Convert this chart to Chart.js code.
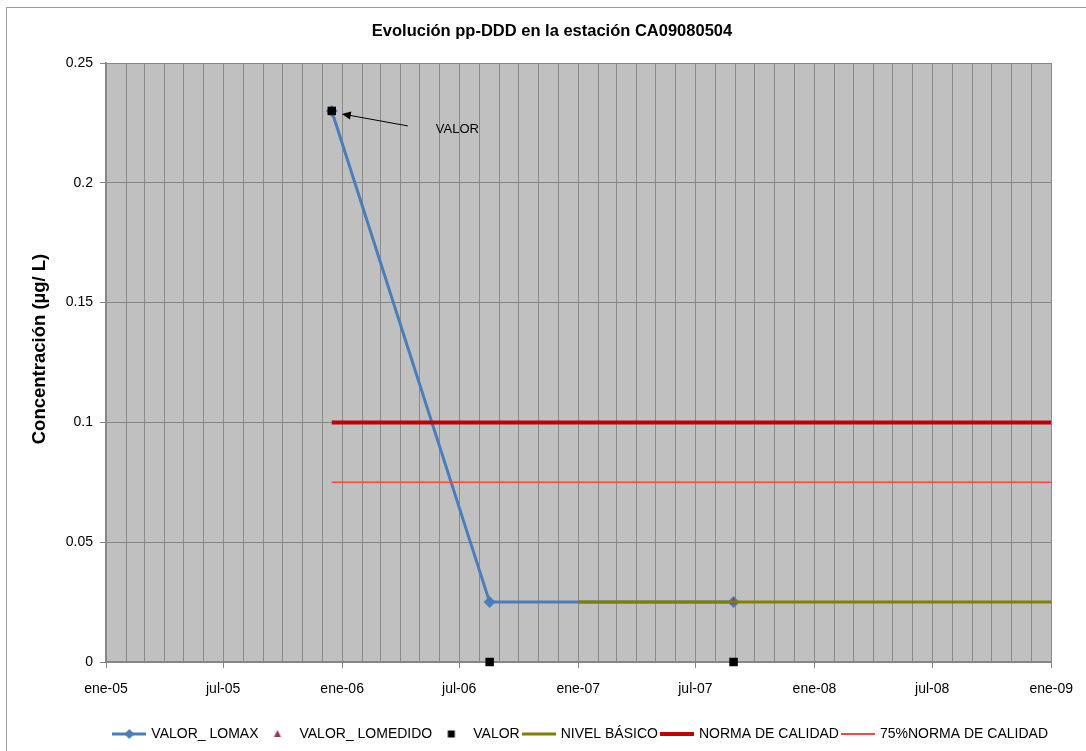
<!DOCTYPE html>
<html>
<head>
<meta charset="utf-8">
<script src="https://cdn.jsdelivr.net/npm/chart.js@4"></script>
<style>
  html, body { margin: 0; padding: 0; background: #fff; }
  #wrap { width: 1086px; height: 751px; position: relative; }
</style>
</head>
<body>
<div id="wrap"><canvas id="evolucion" width="1086" height="751"></canvas></div>
<script>
// datos
const fechasLomax = ["2005-12-16", "2006-08-17", "2007-08-29"];
const valorLomax = [0.23, 0.025, 0.025];
const fechasLomedido = ["2007-08-29"];
const valorLomedido = [0.025];
const fechasValor = ["2005-12-16", "2006-08-17", "2007-08-29"];
const valorValor = [0.23, 0, 0];
const fechasNivel = ["2007-01-01", "2009-01-01"];
const valorNivel = [0.025, 0.025];
const fechasNorma = ["2005-12-16", "2009-01-01"];
const valorNorma = [0.1, 0.1];
const valorNorma75 = [0.075, 0.075];

const meses = ["ene", "feb", "mar", "abr", "may", "jun", "jul", "ago", "sep", "oct", "nov", "dic"];
const yTicks = [0, 0.05, 0.1, 0.15, 0.2, 0.25];
const yTickLabels = ["0", "0.05", "0.1", "0.15", "0.2", "0.25"];
const nombres = ["VALOR_ LOMAX", "VALOR_ LOMEDIDO", "VALOR", "NIVEL BÁSICO", "NORMA DE CALIDAD", "75%NORMA DE CALIDAD"];
const titulo = "Evolución pp-DDD en la estación CA09080504";
const tituloY = "Concentración (µg/ L)";

const FUENTE = '"Liberation Sans", Arial, sans-serif';
const puntos = (fechas, valores) => fechas.map((f, i) => ({ x: Date.parse(f), y: valores[i] }));

Chart.defaults.font.family = FUENTE;
Chart.defaults.color = "#000";

const icono = (dibujar) => {
  const c = document.createElement("canvas");
  c.width = 34;
  c.height = 14;
  dibujar(c.getContext("2d"));
  return c;
};
const linea = (g, color, ancho) => {
  g.strokeStyle = color;
  g.lineWidth = ancho;
  g.beginPath();
  g.moveTo(0, 7);
  g.lineTo(34, 7);
  g.stroke();
};

const iconos = [
  icono((g) => {
    linea(g, "#4a7ebb", 3);
    g.fillStyle = "#4a7ebb";
    g.beginPath();
    g.moveTo(17, 2); g.lineTo(22, 7); g.lineTo(17, 12); g.lineTo(12, 7);
    g.closePath();
    g.fill();
  }),
  icono((g) => {
    g.fillStyle = "#993366";
    g.beginPath();
    g.moveTo(17, 3); g.lineTo(20.5, 10); g.lineTo(13.5, 10);
    g.closePath();
    g.fill();
  }),
  icono((g) => {
    g.fillStyle = "#000";
    g.fillRect(13.5, 3.5, 7, 7);
  }),
  icono((g) => linea(g, "#808000", 3)),
  icono((g) => linea(g, "#c00000", 4)),
  icono((g) => linea(g, "#ff4545", 2)),
];

const fondo = {
  id: "fondo",
  beforeDraw(chart) {
    const { ctx, chartArea: a } = chart;
    ctx.save();
    ctx.fillStyle = "#c0c0c0";
    ctx.fillRect(a.left, a.top, a.right - a.left, a.bottom - a.top);
    ctx.strokeStyle = "#9c9c9c";
    ctx.lineWidth = 1;
    ctx.strokeRect(6.5, 7.5, 1200, 900);
    // titulo y titulo del eje
    ctx.fillStyle = "#000";
    ctx.textAlign = "center";
    ctx.textBaseline = "middle";
    ctx.font = "bold 16.5px " + FUENTE;
    ctx.fillText(titulo, 552, 31);
    ctx.translate(40, 349);
    ctx.rotate(-Math.PI / 2);
    ctx.font = "bold 18.5px " + FUENTE;
    ctx.fillText(tituloY, 0, 0);
    ctx.restore();
  },
  afterDatasetsDraw(chart) {
    // etiqueta "VALOR" con flecha hacia el primer punto
    const { ctx, scales } = chart;
    const px = scales.x.getPixelForValue(Date.parse(fechasValor[0]));
    const py = scales.y.getPixelForValue(valorValor[0]);
    const tx = px + 10, ty = py + 3;
    const sx = px + 76, sy = py + 15;
    const ang = Math.atan2(ty - sy, tx - sx);
    ctx.save();
    ctx.strokeStyle = "#000";
    ctx.fillStyle = "#000";
    ctx.lineWidth = 1;
    ctx.beginPath();
    ctx.moveTo(sx, sy);
    ctx.lineTo(tx - 6 * Math.cos(ang), ty - 6 * Math.sin(ang));
    ctx.stroke();
    ctx.beginPath();
    ctx.moveTo(tx, ty);
    ctx.lineTo(tx - 9 * Math.cos(ang) + 4 * Math.sin(ang), ty - 9 * Math.sin(ang) - 4 * Math.cos(ang));
    ctx.lineTo(tx - 9 * Math.cos(ang) - 4 * Math.sin(ang), ty - 9 * Math.sin(ang) + 4 * Math.cos(ang));
    ctx.closePath();
    ctx.fill();
    ctx.font = "13px " + FUENTE;
    ctx.textBaseline = "middle";
    ctx.fillText("VALOR", px + 104, py + 19);
    ctx.restore();
  },
};

const ctx = document.getElementById("evolucion");

new Chart(ctx, {
  type: "line",
  data: {
    datasets: [
      {
        label: nombres[0],
        data: puntos(fechasLomax, valorLomax),
        borderColor: "#4a7ebb",
        backgroundColor: "#4a7ebb",
        borderWidth: 3,
        pointStyle: "rectRot",
        pointRadius: 6,
        pointBorderWidth: 0,
        order: 6,
      },
      {
        label: nombres[1],
        data: puntos(fechasLomedido, valorLomedido),
        showLine: false,
        backgroundColor: "#993366",
        borderColor: "#993366",
        pointStyle: "triangle",
        pointRadius: 4.5,
        pointBorderWidth: 0,
        order: 5,
      },
      {
        label: nombres[2],
        data: puntos(fechasValor, valorValor),
        showLine: false,
        backgroundColor: "#000",
        borderColor: "#000",
        pointStyle: "rect",
        pointRadius: 6,
        pointBorderWidth: 0,
        clip: false,
        order: 4,
      },
      {
        label: nombres[3],
        data: puntos(fechasNivel, valorNivel),
        borderColor: "#808000",
        borderWidth: 3,
        pointRadius: 0,
        order: 3,
      },
      {
        label: nombres[4],
        data: puntos(fechasNorma, valorNorma),
        borderColor: "#c00000",
        borderWidth: 4,
        pointRadius: 0,
        order: 2,
      },
      {
        label: nombres[5],
        data: puntos(fechasNorma, valorNorma75),
        borderColor: "#ff4545",
        borderWidth: 1.5,
        pointRadius: 0,
        order: 1,
      },
    ],
  },
  options: {
    responsive: false,
    animation: false,
    events: [],
    layout: { padding: { left: 10, right: 34, top: 63, bottom: 0 } },
    plugins: {
      tooltip: { enabled: false },
      title: { display: false },
      legend: {
        position: "bottom",
        align: "end",
        labels: {
          usePointStyle: true,
          pointStyleWidth: 30,
          padding: 4,
          font: { size: 14 },
          generateLabels: () =>
            nombres.map((n, i) => ({
              text: n,
              pointStyle: iconos[i],
              fillStyle: "transparent",
              strokeStyle: "transparent",
              lineWidth: 0,
              hidden: false,
              datasetIndex: i,
            })),
        },
      },
    },
    scales: {
      x: {
        type: "linear",
        min: Date.UTC(2005, 0, 1),
        max: Date.UTC(2009, 0, 1),
        afterBuildTicks: (scale) => {
          const t = [];
          for (let m = 0; m <= 48; m++) t.push({ value: Date.UTC(2005, m, 1) });
          scale.ticks = t;
        },
        afterFit: (scale) => {
          scale.height = 61;
        },
        ticks: {
          autoSkip: false,
          maxRotation: 0,
          padding: 13,
          font: { size: 14 },
          callback: (v) => {
            const d = new Date(v);
            const m = d.getUTCMonth();
            return m % 6 === 0 ? meses[m] + "-" + String(d.getUTCFullYear()).slice(2) : "";
          },
        },
        grid: {
          color: "#8a8a8a",
          lineWidth: 1,
          tickLength: 6,
          tickColor: (c) => (c.tick && new Date(c.tick.value).getUTCMonth() % 6 === 0 ? "#868686" : "rgba(0,0,0,0)"),
        },
        border: { color: "#868686", width: 2 },
      },
      y: {
        min: 0,
        max: 0.25,
        afterBuildTicks: (scale) => {
          scale.ticks = yTicks.map((v) => ({ value: v }));
        },
        afterFit: (scale) => {
          scale.width = 96;
        },
        ticks: {
          padding: 7,
          font: { size: 14 },
          callback: (v, i) => yTickLabels[i],
        },
        grid: {
          color: "#868686",
          lineWidth: 1,
          tickLength: 6,
          tickColor: "#868686",
        },
        border: { color: "#868686", width: 1.5 },
      },
    },
  },
  plugins: [fondo],
});
</script>
</body>
</html>
